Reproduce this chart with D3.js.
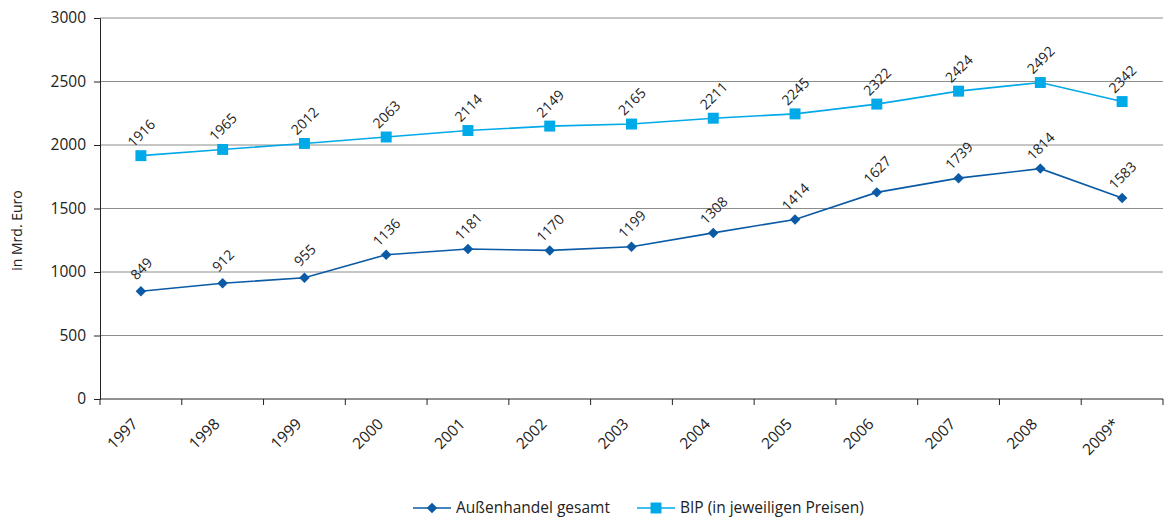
<!DOCTYPE html>
<html>
<head>
<meta charset="utf-8">
<script src="https://cdn.jsdelivr.net/npm/d3@7"></script>
<style>
  body { margin: 0; background: #fff; }
  text { font-family: "Open Sans", "Noto Sans", sans-serif; fill: #222; }
</style>
</head>
<body>
<div id="chart"></div>
<script>
// data
var years = ["1997", "1998", "1999", "2000", "2001", "2002", "2003", "2004", "2005", "2006", "2007", "2008", "2009*"];
var aussenhandel = [849, 912, 955, 1136, 1181, 1170, 1199, 1308, 1414, 1627, 1739, 1814, 1583];
var bip = [1916, 1965, 2012, 2063, 2114, 2149, 2165, 2211, 2245, 2322, 2424, 2492, 2342];
var yTicks = [0, 500, 1000, 1500, 2000, 2500, 3000];

var svgWidth = 1165;
var svgHeight = 522;

var margin = { top: 18, bottom: 123, left: 100, right: 2 };
var chartWidth = svgWidth - margin.left - margin.right;
var chartHeight = svgHeight - margin.top - margin.bottom;

var svg = d3.select("#chart")
  .append("svg")
  .attr("width", svgWidth)
  .attr("height", svgHeight);

var chartGroup = svg.append("g")
  .attr("transform", `translate(${margin.left}, ${margin.top})`);

// scales
var xScale = d3.scaleBand()
  .domain(years)
  .range([0, chartWidth]);

var yScale = d3.scaleLinear()
  .domain([0, 3000])
  .range([chartHeight, 0]);

// gridlines
chartGroup.append("g")
  .selectAll("line")
  .data(yTicks.filter(d => d > 0))
  .enter()
  .append("line")
  .attr("x1", 0)
  .attr("x2", chartWidth)
  .attr("y1", d => yScale(d))
  .attr("y2", d => yScale(d))
  .attr("stroke", "#8c8c8c")
  .attr("stroke-width", 1);

// y axis
var leftAxis = d3.axisLeft(yScale).tickValues(yTicks).tickFormat(d3.format("d")).tickSize(6).tickPadding(8);
var yAxisG = chartGroup.append("g").call(leftAxis);
yAxisG.select(".domain").attr("stroke", "#222");
yAxisG.selectAll(".tick line").attr("stroke", "#222");
yAxisG.selectAll("text").style("font-size", "15.5px").attr("fill", "#222");

// x axis with ticks at category boundaries
var xAxisG = chartGroup.append("g")
  .attr("transform", `translate(0, ${chartHeight})`);
xAxisG.append("line")
  .attr("x1", 0).attr("x2", chartWidth)
  .attr("stroke", "#222");
var bounds = years.map(d => xScale(d)).concat([chartWidth]);
xAxisG.selectAll(".bt")
  .data(bounds)
  .enter()
  .append("line")
  .attr("class", "bt")
  .attr("x1", d => d).attr("x2", d => d)
  .attr("y1", 0).attr("y2", 6)
  .attr("stroke", "#222");
xAxisG.selectAll(".xl")
  .data(years)
  .enter()
  .append("text")
  .attr("class", "xl")
  .attr("text-anchor", "end")
  .attr("transform", d => `translate(${xScale(d) + xScale.bandwidth() / 2 - 2}, ${26}) rotate(-45)`)
  .style("font-size", "15.5px")
  .text(d => d);

// y axis label
svg.append("text")
  .attr("transform", `translate(22, ${margin.top + chartHeight / 2 + 22}) rotate(-90)`)
  .attr("text-anchor", "middle")
  .style("font-size", "14px")
  .text("in Mrd. Euro");

var cx = d => xScale(d) + xScale.bandwidth() / 2;

var series = [
  { name: "Außenhandel gesamt", values: aussenhandel, color: "#0b5aa6", rot: 45, size: 55 },
  { name: "BIP (in jeweiligen Preisen)", values: bip, color: "#00a9e8", rot: 0, size: 120 }
];

series.forEach(function(s) {
  var line = d3.line()
    .x((d, i) => cx(years[i]))
    .y(d => yScale(d));

  chartGroup.append("path")
    .datum(s.values)
    .attr("d", line)
    .attr("fill", "none")
    .attr("stroke", s.color)
    .attr("stroke-width", 1.6);

  chartGroup.selectAll(null)
    .data(s.values)
    .enter()
    .append("path")
    .attr("d", d3.symbol().type(d3.symbolSquare).size(s.size))
    .attr("transform", (d, i) => `translate(${cx(years[i])}, ${yScale(d)}) rotate(${s.rot})`)
    .attr("fill", s.color);

  chartGroup.selectAll(null)
    .data(s.values)
    .enter()
    .append("text")
    .attr("text-anchor", "middle")
    .attr("transform", (d, i) => `translate(${cx(years[i]) + 4}, ${yScale(d) - 19}) rotate(-45)`)
    .style("font-size", "14px")
    .attr("fill", "#333")
    .text(d => d);
});

// legend
var legend = svg.append("g").attr("transform", "translate(413, 508)");
var legendX = [0, 224];
series.forEach(function(s, i) {
  var g = legend.append("g").attr("transform", `translate(${legendX[i]}, 0)`);
  g.append("line")
    .attr("x1", 0).attr("x2", 38)
    .attr("stroke", s.color)
    .attr("stroke-width", 1.6);
  g.append("path")
    .attr("d", d3.symbol().type(d3.symbolSquare).size(s.size))
    .attr("transform", `translate(19, 0) rotate(${s.rot})`)
    .attr("fill", s.color);
  g.append("text")
    .attr("x", 43)
    .attr("dy", "0.35em")
    .style("font-size", "15.5px")
    .text(s.name);
});
</script>
</body>
</html>
